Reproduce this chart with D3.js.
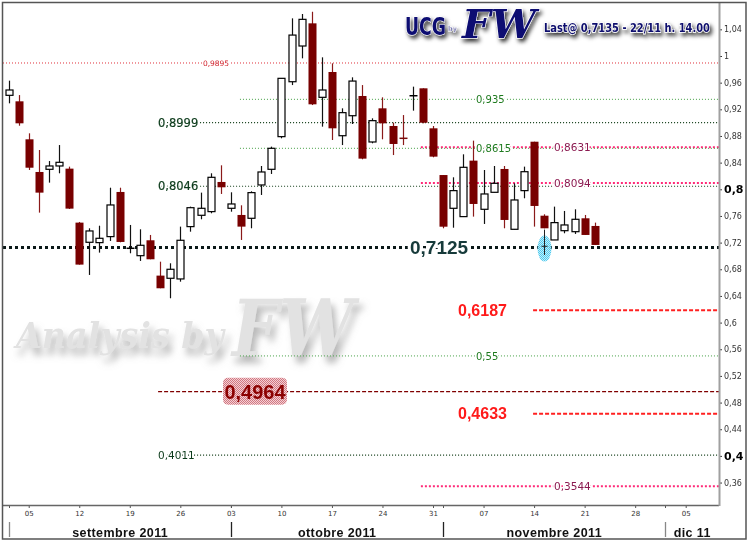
<!DOCTYPE html>
<html>
<head>
<meta charset="utf-8">
<script src="https://cdn.jsdelivr.net/npm/d3@7"></script>
<style>
html,body{margin:0;padding:0;background:#fff;}
svg{display:block;}
</style>
</head>
<body>
<div id="chart"></div>
<script>
// ---------------- DATA ----------------
const dates = [
 "2011-09-01","2011-09-02","2011-09-05","2011-09-06","2011-09-07","2011-09-08","2011-09-09",
 "2011-09-12","2011-09-13","2011-09-14","2011-09-15","2011-09-16","2011-09-19","2011-09-20",
 "2011-09-21","2011-09-22","2011-09-23","2011-09-26","2011-09-27","2011-09-28","2011-09-29",
 "2011-09-30","2011-10-03","2011-10-04","2011-10-05","2011-10-06","2011-10-07","2011-10-10",
 "2011-10-11","2011-10-12","2011-10-13","2011-10-14","2011-10-17","2011-10-18","2011-10-19",
 "2011-10-20","2011-10-21","2011-10-24","2011-10-25","2011-10-26","2011-10-27","2011-10-28",
 "2011-10-31","2011-11-01","2011-11-02","2011-11-03","2011-11-04","2011-11-07","2011-11-08",
 "2011-11-09","2011-11-10","2011-11-11","2011-11-14","2011-11-15","2011-11-16","2011-11-17",
 "2011-11-18","2011-11-21","2011-11-22"];
const opens = [
 0.941,0.932,0.875,0.826,0.830,0.835,0.831,
 0.750,0.7205,0.720,0.729,0.796,0.7115,0.7004,
 0.7235,0.6705,0.6665,0.6655,0.744,0.761,0.7665,
 0.811,0.7715,0.7615,0.7565,0.8065,0.830,0.879,
 0.9614,1.015,1.049,0.938,0.976,0.8804,0.9104,
 0.940,0.871,0.9215,0.895,0.8765,0.9404,0.9515,
 0.8915,0.8214,0.7715,0.759,0.843,0.770,0.7955,
 0.8305,0.740,0.798,0.8714,0.7604,0.724,0.7379,
 0.7364,0.7565,0.745];
const highs = [
 0.963,0.9414,0.884,0.859,0.8424,0.8664,0.834,
 0.751,0.7415,0.7454,0.8024,0.8024,0.7465,0.740,
 0.7315,0.6914,0.689,0.744,0.774,0.795,0.824,
 0.836,0.7955,0.776,0.797,0.835,0.864,0.9665,
 1.0565,1.063,1.0664,0.998,0.989,0.9215,0.968,
 0.9564,0.9065,0.938,0.900,0.9114,0.954,0.9515,
 0.895,0.8214,0.818,0.8525,0.873,0.829,0.835,
 0.835,0.809,0.834,0.8714,0.7625,0.774,0.7675,
 0.770,0.7615,0.750];
const lows = [
 0.929,0.8954,0.829,0.765,0.810,0.824,0.7705,
 0.687,0.6715,0.705,0.7225,0.7205,0.704,0.6925,
 0.695,0.6515,0.6365,0.6614,0.7364,0.755,0.764,
 0.793,0.7664,0.724,0.7415,0.7915,0.823,0.8765,
 0.9564,0.9965,0.9264,0.894,0.874,0.8664,0.898,
 0.845,0.869,0.875,0.8514,0.8664,0.918,0.899,
 0.848,0.7415,0.7424,0.759,0.759,0.748,0.7955,
 0.7415,0.740,0.7865,0.744,0.7415,0.724,0.734,
 0.733,0.7315,0.7165];
const closes = [
 0.949,0.899,0.8324,0.795,0.835,0.8405,0.771,
 0.687,0.7375,0.7265,0.7765,0.721,0.7115,0.716,
 0.695,0.6515,0.680,0.7235,0.7724,0.7715,0.818,
 0.803,0.778,0.744,0.795,0.826,0.8615,0.9665,
 1.0314,1.055,0.9275,0.949,0.8915,0.915,0.9624,
 0.846,0.903,0.899,0.868,0.8765,0.9404,0.8999,
 0.849,0.7439,0.798,0.833,0.778,0.793,0.809,
 0.754,0.784,0.8264,0.775,0.7415,0.750,0.7465,
 0.755,0.7315,0.7165];
// doji marks drawn in dark red (1) or black (0)
const dojiDark = {"2011-10-26":1};

const yTickValues = [0.36,0.40,0.44,0.48,0.52,0.56,0.60,0.64,0.68,0.72,0.76,0.80,0.84,0.88,0.92,0.96,1.00,1.04];
const yTickLabels = ["0,36","0,4","0,44","0,48","0,52","0,56","0,6","0,64","0,68","0,72","0,76","0,8","0,84","0,88","0,92","0,96","1","1,04"];
const yBoldTicks = ["0,8","0,4"];

const monthNames = ["settembre 2011","ottobre 2011","novembre 2011","dic 11"];

// horizontal levels
const levelValues = [0.9895,0.935,0.8999,0.8631,0.8615,0.8094,0.8046,0.7125,0.6187,0.55,0.4964,0.4633,0.4011,0.3544];
const levelLabels = ["0,9895","0,935","0,8999","0,8631","0,8615","0,8094","0,8046","0,7125","0,6187","0,55","0,4964","0,4633","0,4011","0,3544"];
const levelKinds  = ["thinRed","green","dark","pink","green","pink","dark","support","redDash","green","maroon","redDash","darkSmall","pink"];
// start (trading-day index) from which each level line is drawn
const levelStart  = [-0.6,22.9,14.8,40.8,22.9,40.8,14.8,-0.6,51.9,22.9,14.8,51.9,14.8,40.8];

const headerText = "Last@ 0,7135  - 22/11 h. 14.00";

// ---------------- LAYOUT / STYLES ----------------
const W = 748, H = 540;
const plot = {l:3, t:3, r:719, b:505};
const kindStyle = {
  thinRed:  {stroke:"#e0303a", w:1,   dash:"1 2", fill:"#d0202a", size:7.5, font:"DejaVu Sans", weight:"normal", lx:216, anchor:"middle"},
  green:    {stroke:"#45a045", w:1,   dash:"1 2", fill:"#1e7a1e", size:10,  font:"DejaVu Sans", weight:"normal", lx:476, anchor:"start"},
  dark:     {stroke:"#0e3a14", w:1.2, dash:"1 2", fill:"#0b3a1a", size:11.5,font:"DejaVu Sans", weight:"normal", lx:158, anchor:"start", bolden:0.2},
  darkSmall:{stroke:"#0e3a14", w:1.1, dash:"1 2", fill:"#0b3a1a", size:10.5,font:"DejaVu Sans", weight:"normal", lx:158, anchor:"start"},
  pink:     {stroke:"#ff2a78", w:2,   dash:"2 2", fill:"#8b1a50", size:10.5,font:"DejaVu Sans", weight:"normal", lx:554, anchor:"start"},
  support:  {stroke:"#0a1818", w:3,   dash:"3 3", fill:"#163a3a", size:19,  font:"Liberation Sans", weight:"bold", lx:410, anchor:"start"},
  redDash:  {stroke:"#ff2020", w:2,   dash:"4 2", fill:"#ff1a1a", size:16,  font:"Liberation Sans", weight:"bold", lx:458, anchor:"start"},
  maroon:   {stroke:"#800000", w:1.2, dash:"4 2", fill:"#8b0000", size:20,  font:"Liberation Sans", weight:"bold", lx:255, anchor:"middle", box:true}
};

// ---------------- SCALES ----------------
const axisDays = d3.timeDay.range(new Date(2011,8,1), new Date(2011,11,10)).filter(d => d.getDay()!==0 && d.getDay()!==6);
const fmtKey = d3.timeFormat("%Y-%m-%d");
const dayIndex = new Map(axisDays.map((d,i)=>[fmtKey(d), i]));
const x = d3.scaleLinear().domain([0, 67]).range([8.5, 685.7]);
const y = d3.scaleLinear().domain([0.8, 0.4]).range([189.3, 455.9]);

const candles = dates.map((d,i)=>({date:d, idx:dayIndex.get(d), o:opens[i], h:highs[i], l:lows[i], c:closes[i]}));

// ---------------- SVG ----------------
const svg = d3.select("#chart").append("svg").attr("width",W).attr("height",H)
  .style("font-family","DejaVu Sans, sans-serif");
const defs = svg.append("defs");
defs.append("clipPath").attr("id","clip").append("rect")
  .attr("x",plot.l).attr("y",plot.t).attr("width",plot.r-plot.l).attr("height",plot.b-plot.t);
const sh = defs.append("filter").attr("id","sh").attr("x","-20%").attr("y","-40%").attr("width","150%").attr("height","200%");
sh.append("feDropShadow").attr("dx",2).attr("dy",3).attr("stdDeviation",2).attr("flood-color","#000").attr("flood-opacity",0.85);
const wm = defs.append("filter").attr("id","wm").attr("x","-20%").attr("y","-40%").attr("width","150%").attr("height","200%");
wm.append("feDropShadow").attr("dx",4).attr("dy",7).attr("stdDeviation",3.5).attr("flood-color","#8a8a8a").attr("flood-opacity",0.6);
const pk = defs.append("pattern").attr("id","pk").attr("width",2).attr("height",2).attr("patternUnits","userSpaceOnUse");
pk.append("rect").attr("width",2).attr("height",2).attr("fill","#f4d0d4");
pk.append("rect").attr("width",1).attr("height",1).attr("fill","#d07882");
pk.append("rect").attr("x",1).attr("y",1).attr("width",1).attr("height",1).attr("fill","#d07882");
const cy = defs.append("pattern").attr("id","cy").attr("width",2).attr("height",2).attr("patternUnits","userSpaceOnUse");
cy.append("rect").attr("width",2).attr("height",2).attr("fill","#bdeefb");
cy.append("rect").attr("width",1).attr("height",1).attr("fill","#48c6ec");
cy.append("rect").attr("x",1).attr("y",1).attr("width",1).attr("height",1).attr("fill","#48c6ec");

svg.append("rect").attr("width",W).attr("height",H).attr("fill","#fff");

// squeeze a text horizontally to a target width (real glyph scaling)
function fitText(sel, tx, ty, target){
  sel.attr("x",0).attr("y",0);
  const w = sel.node().getComputedTextLength();
  sel.attr("transform",`translate(${tx},${ty}) scale(${target/w},1)`);
  return sel;
}

// watermark
const wmG = svg.append("g").attr("filter","url(#wm)");
fitText(wmG.append("text")
  .attr("font-family","DejaVu Serif").attr("font-style","italic").attr("font-weight","bold")
  .attr("font-size",36).attr("fill","#e2e2e2").text("Analysis by"), 16, 348, 208);
fitText(wmG.append("text")
  .attr("font-family","DejaVu Serif").attr("font-style","italic").attr("font-weight","bold")
  .attr("font-size",78).attr("fill","#e2e2e2").text("FW"), 232, 356, 122);

// levels
const lvG = svg.append("g").attr("clip-path","url(#clip)");
levelValues.forEach((v,i)=>{
  const st = kindStyle[levelKinds[i]];
  lvG.append("line").attr("x1",Math.max(plot.l, x(levelStart[i]))).attr("x2",plot.r)
    .attr("y1",y(v)).attr("y2",y(v))
    .attr("stroke",st.stroke).attr("stroke-width",st.w).attr("stroke-dasharray",st.dash);
});

// candles
const cG = svg.append("g").attr("clip-path","url(#clip)");
const bw = 8;
candles.forEach(c=>{
  const cx = Math.round(x(c.idx)) + 0.5;
  const up = c.c > c.o;
  const doji = Math.abs(c.c - c.o) < 0.002;
  const dark = doji ? !!dojiDark[c.date] : !up;
  const col = dark ? "#7a0a0a" : "#000";
  cG.append("line").attr("x1",cx).attr("x2",cx).attr("y1",y(c.h)).attr("y2",y(c.l))
    .attr("stroke", dark ? "#8a1a1a" : "#111").attr("stroke-width",1.2);
  if (doji) {
    cG.append("line").attr("x1",cx-4).attr("x2",cx+4).attr("y1",y(c.o)).attr("y2",y(c.o))
      .attr("stroke",col).attr("stroke-width",1.5);
  } else if (dark) {
    cG.append("rect").attr("x",cx-bw/2).attr("width",bw)
      .attr("y",y(Math.max(c.o,c.c))).attr("height",Math.max(1,y(Math.min(c.o,c.c))-y(Math.max(c.o,c.c))))
      .attr("fill","#780000");
  } else {
    cG.append("rect").attr("x",cx-bw/2+0.5).attr("width",bw-1)
      .attr("y",y(Math.max(c.o,c.c))).attr("height",Math.max(1,y(Math.min(c.o,c.c))-y(Math.max(c.o,c.c))))
      .attr("fill","#fff").attr("stroke","#000").attr("stroke-width",1.2);
  }
});

// highlight ellipse on the 0,7125 touch (15/11)
const hlIdx = dayIndex.get("2011-11-15");
const hx = Math.round(x(hlIdx)) + 0.5;
svg.append("ellipse").attr("cx",hx).attr("cy",y(0.7125)+1).attr("rx",7).attr("ry",13)
  .attr("fill","url(#cy)").attr("opacity",0.95);
svg.append("line").attr("x1",hx).attr("x2",hx).attr("y1",y(0.7395)).attr("y2",y(0.7015)).attr("stroke","#222").attr("stroke-width",1);
svg.append("line").attr("x1",hx-3).attr("x2",hx+3).attr("y1",y(0.7145)).attr("y2",y(0.7145)).attr("stroke","#222").attr("stroke-width",1);

// level labels
levelValues.forEach((v,i)=>{
  const st = kindStyle[levelKinds[i]];
  const g = svg.append("g");
  if (st.box) {
    g.append("rect").attr("x",st.lx-32).attr("y",y(v)-14).attr("width",64).attr("height",27)
      .attr("rx",5).attr("fill","url(#pk)");
  }
  const t = g.append("text").attr("x",st.lx).attr("y",y(v)).attr("dy","0.36em")
    .attr("text-anchor",st.anchor).attr("font-family",st.font).attr("font-weight",st.weight)
    .attr("font-size",st.size).attr("fill",st.fill).text(levelLabels[i]);
  if (!st.box) {
    t.attr("stroke","#fff").attr("stroke-width", levelKinds[i]==="support" ? 6 : 3)
     .attr("paint-order","stroke").attr("stroke-linejoin","round");
  }
  if (st.bolden) {
    t.attr("stroke","none");
    g.insert("text", "text").attr("x",st.lx).attr("y",y(v)).attr("dy","0.36em")
      .attr("text-anchor",st.anchor).attr("font-family",st.font).attr("font-size",st.size)
      .attr("fill","#fff").attr("stroke","#fff").attr("stroke-width",3).text(levelLabels[i]);
    t.attr("stroke",st.fill).attr("stroke-width",st.bolden);
  }
});

// axes
const yAxis = d3.axisRight(y).tickValues(yTickValues).tickSize(3).tickPadding(2)
  .tickFormat((d,i)=>yTickLabels[i]);
const yg = svg.append("g").attr("transform",`translate(${plot.r},0)`).call(yAxis);
yg.select(".domain").remove();
yg.selectAll(".tick line").attr("stroke","#333");
yg.selectAll(".tick text").attr("font-family","DejaVu Sans").attr("font-size",8).attr("fill","#333")
  .each(function(d,i){
    if (yBoldTicks.includes(yTickLabels[i])) d3.select(this).attr("font-size",11).attr("font-weight","bold").attr("fill","#000");
  });

const mondayIdx = axisDays.map((d,i)=>d.getDay()===1 ? i : -1).filter(i=>i>=0);
const xAxis = d3.axisBottom(x).tickValues(mondayIdx).tickSize(3).tickPadding(3)
  .tickFormat(i=>d3.timeFormat("%d")(axisDays[i]));
const xg = svg.append("g").attr("transform",`translate(0,${plot.b})`).call(xAxis);
xg.select(".domain").remove();
xg.selectAll(".tick line").attr("stroke","#555");
xg.selectAll(".tick text").attr("font-family","DejaVu Sans").attr("font-size",7).attr("fill","#333");

// month starts
const monthStarts = [];
axisDays.forEach((d,i)=>{ if (i===0 || d.getMonth()!==axisDays[i-1].getMonth()) monthStarts.push(i); });
monthStarts.forEach((mi,k)=>{
  const mx = Math.round(x(mi)) + 0.5;
  svg.append("line").attr("x1",mx).attr("x2",mx).attr("y1",plot.b+1).attr("y2",plot.b+3).attr("stroke","#555");
  svg.append("line").attr("x1",mx).attr("x2",mx).attr("y1",522).attr("y2",537)
    .attr("stroke", (k===0||k===3) ? "#888" : "#222").attr("stroke-width",1.3);
  const x0 = mx, x1 = k+1<monthStarts.length ? Math.round(x(monthStarts[k+1])) : plot.r;
  svg.append("text").attr("x",(x0+x1)/2).attr("y",537).attr("text-anchor","middle")
    .attr("font-family","Liberation Sans").attr("font-weight","bold").attr("font-size",12.5)
    .attr("letter-spacing",0.4).attr("fill","#111").text(monthNames[k]);
});

// axis lines and frame
svg.append("line").attr("x1",plot.l).attr("x2",plot.r).attr("y1",plot.b+0.5).attr("y2",plot.b+0.5).attr("stroke","#666").attr("stroke-width",1.5);
svg.append("line").attr("x1",plot.r+0.5).attr("x2",plot.r+0.5).attr("y1",plot.t).attr("y2",plot.b+1).attr("stroke","#a0a0a0").attr("stroke-width",2);
svg.append("rect").attr("x",2.5).attr("y",2.5).attr("width",743.5).attr("height",536.5)
  .attr("fill","none").attr("stroke","#555").attr("stroke-width",1.5);

// header
const hd = svg.append("g").attr("filter","url(#sh)");
fitText(hd.append("text").attr("font-family","DejaVu Sans").attr("font-weight","bold")
  .attr("font-size",24).attr("fill","#0c0c72").attr("stroke","#fff").attr("stroke-width",0.8)
  .attr("paint-order","stroke").text("UCG"), 405, 35, 41);
fitText(hd.append("text").attr("font-family","DejaVu Sans").attr("font-weight","bold")
  .attr("font-size",7).attr("fill","#0c0c72").attr("stroke","#fff").attr("stroke-width",0.5).text("by"), 448, 31, 9);
fitText(hd.append("text").attr("font-family","DejaVu Serif").attr("font-style","italic").attr("font-weight","bold")
  .attr("font-size",40).attr("fill","#0c0c72").attr("stroke","#fff").attr("stroke-width",1)
  .attr("paint-order","stroke").text("FW"), 462, 38, 74);
fitText(hd.append("text").attr("font-family","DejaVu Sans").attr("font-weight","bold")
  .attr("font-size",12).attr("fill","#10106e").attr("stroke","#fff").attr("stroke-width",1.4)
  .attr("paint-order","stroke").text(headerText), 544, 32, 166);
</script>
</body>
</html>
